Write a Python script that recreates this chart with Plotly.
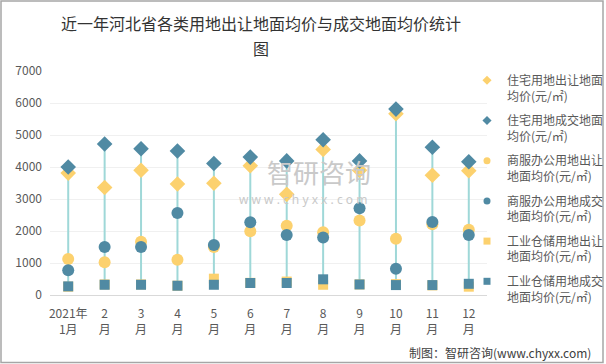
import plotly.graph_objects as go

months = ["2021年<br>1月", "2<br>月", "3<br>月", "4<br>月", "5<br>月", "6<br>月",
          "7<br>月", "8<br>月", "9<br>月", "10<br>月", "11<br>月", "12<br>月"]

res_offer = [3810, 3360, 3900, 3470, 3490, 4040, 3145, 4550, 3900, 5665, 3740, 3885]
res_deal = [4000, 4720, 4570, 4500, 4110, 4310, 4190, 4850, 4190, 5810, 4615, 4165]
com_offer = [1125, 1020, 1665, 1100, 1500, 1990, 2165, 1960, 2330, 1760, 2210, 2040]
com_deal = [770, 1500, 1500, 2560, 1560, 2270, 1875, 1800, 2710, 820, 2280, 1875]
ind_offer = [260, 330, 330, 290, 510, 380, 420, 320, 330, 340, 300, 260]
ind_deal = [270, 320, 320, 290, 320, 375, 375, 490, 330, 310, 310, 350]

names = ["住宅用地出让地面<br>均价(元/㎡)", "住宅用地成交地面<br>均价(元/㎡)",
         "商服办公用地出让<br>地面均价(元/㎡)", "商服办公用地成交<br>地面均价(元/㎡)",
         "工业仓储用地出让<br>地面均价(元/㎡)", "工业仓储用地成交<br>地面均价(元/㎡)"]

YEL = "#FCD16E"
DRK = "#508AA3"
LINE = "#9FD8D8"

series = [
    (res_offer, YEL, "diamond", 12),
    (res_deal, DRK, "diamond", 12),
    (com_offer, YEL, "circle", 12),
    (com_deal, DRK, "circle", 12),
    (ind_offer, YEL, "square", 10),
    (ind_deal, DRK, "square", 10),
]

fig = go.Figure()

# high-low lines
lx, ly = [], []
all_vals = [s[0] for s in series]
for i, m in enumerate(months):
    vals = [v[i] for v in all_vals]
    lx += [m, m, None]
    ly += [min(vals), max(vals), None]
fig.add_trace(go.Scatter(x=lx, y=ly, mode="lines", line=dict(color=LINE, width=2),
                         showlegend=False, hoverinfo="skip"))

for (vals, col, sym, sz), nm in zip(series, names):
    fig.add_trace(go.Scatter(x=months, y=vals, mode="markers", name=nm,
                             marker=dict(color=col, symbol=sym, size=sz),
                             showlegend=False))

for (vals, col, sym, sz), nm in zip(series, names):
    fig.add_trace(go.Scatter(x=[None], y=[None], mode="markers", name=nm,
                             legendgroup=nm,
                             marker=dict(color=col, symbol=sym, size=7)))

W, H = 606, 364
L, R, T, B = 50, 119, 71, 69
pw, ph = W - L - R, H - T - B

def px(x):
    return (x - L) / pw

def py(y):
    return (H - B - y) / ph

def ann(text, x, y, size, color, family="Noto Sans CJK SC", xanchor="center"):
    fig.add_annotation(text=text, x=px(x), y=py(y), xref="paper", yref="paper",
                       xanchor=xanchor, yanchor="middle", showarrow=False,
                       font=dict(size=size, color=color, family=family))

ann("近一年河北省各类用地出让地面均价与成交地面均价统计", 261, 23, 16, "#333333")
ann("图", 261, 48, 16, "#333333")
ann("智研咨询", 319, 171, 26, "#C9C9C9")
ann("w w w . c h y x x . c o m", 303, 199, 12, "#C9C9C9", family="Noto Sans")
ann("制图：智研咨询(www.chyxx.com)", 593, 352, 12, "#404040", xanchor="right")

fig.add_shape(type="rect", xref="paper", yref="paper", x0=px(1), x1=px(603), y0=py(362.5), y1=py(1),
              line=dict(color="#A6A6A6", width=1.5), fillcolor="rgba(0,0,0,0)", layer="below")

fig.update_layout(
    width=W, height=H,
    margin=dict(l=L, r=R, t=T, b=B, autoexpand=False),
    paper_bgcolor="white", plot_bgcolor="white",
    font=dict(family="Noto Sans CJK SC", size=12, color="#595959"),
    xaxis=dict(type="category", categoryorder="array", categoryarray=months,
               showline=True, linecolor="#D9D9D9", linewidth=1, ticks="",
               showgrid=False, tickfont=dict(size=12, color="#595959"), range=[-0.5, 11.5],
               ticklabelstandoff=8),
    yaxis=dict(range=[0, 7000], tickvals=[0, 1000, 2000, 3000, 4000, 5000, 6000, 7000],
               showgrid=True, gridcolor="#F0F0F0", gridwidth=1, zeroline=False, ticks="",
               tickfont=dict(size=12, color="#595959"), ticklabelstandoff=7),
    legend=dict(x=px(467), xanchor="left", y=py(66), yanchor="top",
                font=dict(size=12, color="#595959"), tracegroupgap=6,
                valign="top", maxheight=1.0,
                bgcolor="rgba(0,0,0,0)"),
    showlegend=True,
)

fig.write_html("out.html", config={"displayModeBar": False},
               post_script="document.body.style.margin='0';document.body.style.padding='0';")
